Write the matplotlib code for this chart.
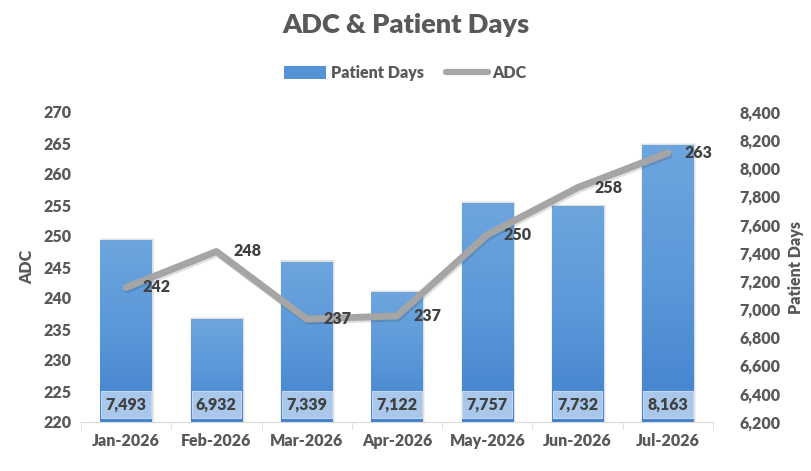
import matplotlib
matplotlib.use("Agg")
import matplotlib.pyplot as plt
import numpy as np
from matplotlib.patches import Rectangle
from matplotlib.colors import LinearSegmentedColormap
from matplotlib.lines import Line2D
import matplotlib.patheffects as pe

plt.rcParams['font.family'] = ['Lato', 'DejaVu Sans']
W = 'heavy'
plt.rcParams['font.weight'] = W

months = ["Jan-2026", "Feb-2026", "Mar-2026", "Apr-2026", "May-2026", "Jun-2026", "Jul-2026"]
patient_days = [7493, 6932, 7339, 7122, 7757, 7732, 8163]
adc = [241.7, 247.5, 236.6, 237.1, 250.2, 257.8, 263.4]
adc_ticks = [220, 225, 230, 235, 240, 245, 250, 255, 260, 265, 270]
pd_ticks = [6200, 6400, 6600, 6800, 7000, 7200, 7400, 7600, 7800, 8000, 8200, 8400]

TXT = "#595959"
LBL = "#404040"
FS = 11.5
fig = plt.figure(figsize=(8.11, 4.71), dpi=100)
ax = fig.add_axes([81/811, 49/471, 632/811, 310/471])
ax2 = ax.twinx()

x = np.arange(len(months))
bw = 0.57
cmap = LinearSegmentedColormap.from_list("g", ["#4282cc", "#5a98d9", "#6ea5de"])
grad = np.linspace(0, 1, 256).reshape(-1, 1)

ax2.set_ylim(6200, 8400)
ax2.set_xlim(-0.5, len(months) - 0.5)
for i, v in enumerate(patient_days):
    for k, a in ((0.035, 0.05), (0.018, 0.07)):
        sh = Rectangle((x[i] - bw/2 - k/2 + 0.01, 6200), bw + k, v - 6200 + k * 400,
                       facecolor="#000000", alpha=a, edgecolor="none", zorder=1)
        ax2.add_patch(sh)
    rect = Rectangle((x[i] - bw/2, 6200), bw, v - 6200, facecolor="none", edgecolor="none", zorder=2)
    ax2.add_patch(rect)
    im = ax2.imshow(grad, cmap=cmap, aspect="auto", origin="lower",
                    extent=(x[i] - bw/2, x[i] + bw/2, 6200, v), zorder=2)
    im.set_clip_path(rect)
    box = Rectangle((x[i] - bw/2 + 0.01, 6226), bw - 0.02, 192, facecolor="#a8c7ea",
                    edgecolor="#c3d7ef", linewidth=0.8, zorder=3)
    ax2.add_patch(box)
    ax2.text(x[i], 6320, f"{v:,}", ha="center", va="center", fontsize=FS,
             color=LBL, fontweight=W, zorder=4)
ax2.set_aspect("auto")

ax.set_zorder(ax2.get_zorder() + 1)
ax.patch.set_visible(False)
ax.set_ylim(220, 270)
ax.set_xlim(-0.5, len(months) - 0.5)
ax.plot(x, adc, color="#a5a5a5", linewidth=5, solid_joinstyle="round", solid_capstyle="round",
        zorder=5, path_effects=[pe.SimpleLineShadow(offset=(0.8, -1.5), shadow_color="#000000", alpha=0.12),
                                pe.Normal()])
for i, v in enumerate(adc):
    ax.annotate(f"{round(v)}", (x[i], v), xytext=(12, 0), textcoords="offset points",
                ha="left", va="center", fontsize=FS, color=LBL, fontweight=W, zorder=6)

ax.set_yticks(adc_ticks)
ax.set_yticklabels([str(t) for t in adc_ticks])
ax2.set_yticks(pd_ticks)
ax2.set_yticklabels([f"{t:,}" for t in pd_ticks])
ax.set_xticks(x)
ax.set_xticklabels(months)
ax.set_xticks(np.arange(-0.5, len(months)), minor=True)

for a in (ax, ax2):
    for s in a.spines.values():
        s.set_visible(False)
ax.spines["bottom"].set_visible(True)
ax.spines["bottom"].set_color("#d9d9d9")
ax.tick_params(axis="x", which="major", length=0, pad=8, labelsize=FS, labelcolor=TXT)
ax.tick_params(axis="x", which="minor", length=5, color="#d9d9d9", direction="out")
ax.tick_params(axis="y", length=0, pad=7, labelsize=FS, labelcolor=TXT)
ax2.tick_params(axis="y", length=0, pad=19, labelsize=FS, labelcolor=TXT)
for lab in ax.get_xticklabels() + ax.get_yticklabels() + ax2.get_yticklabels():
    lab.set_fontweight(W)

ax.set_ylabel("ADC", fontsize=FS, color=TXT, fontweight=W, labelpad=6)
ax2.set_ylabel("Patient Days", fontsize=FS, color=TXT, fontweight=W, labelpad=5)

fig.text(0.5, 1 - 25/471, "ADC & Patient Days", ha="center", va="center",
         fontsize=19.5, fontweight=W, color=TXT)

handles = [Rectangle((0, 0), 1, 1, facecolor="#5592d6", edgecolor="none"),
           Line2D([0], [0], color="#a5a5a5", linewidth=4.5, solid_capstyle="round")]
leg = fig.legend(handles, ["Patient Days", "ADC"], loc="center", bbox_to_anchor=(0.5, 1 - 73/471),
                 ncol=2, frameon=False, fontsize=FS, handlelength=2.6, handleheight=0.8,
                 columnspacing=1.4, handletextpad=0.3)
for t in leg.get_texts():
    t.set_color(TXT)
    t.set_fontweight(W)

fig.savefig("out.png", dpi=100)
